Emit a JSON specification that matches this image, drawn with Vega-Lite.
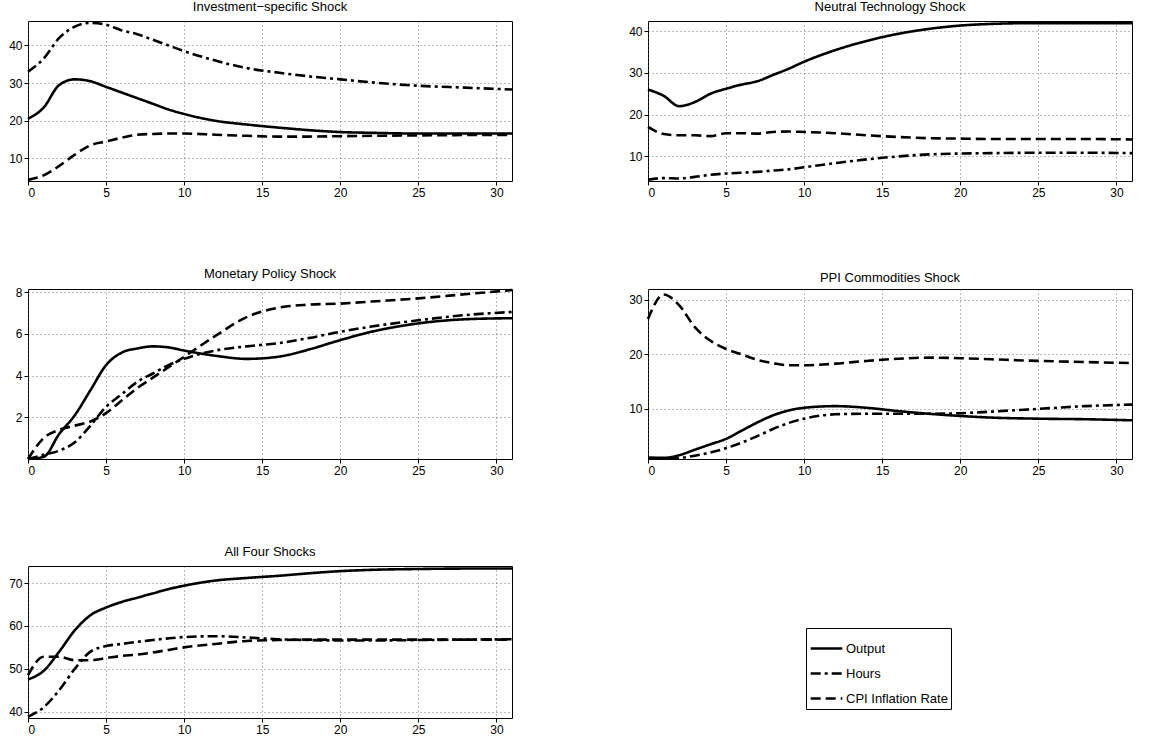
{
  "$schema": "https://vega.github.io/schema/vega-lite/v6.json",
  "padding": {"left": 8, "top": 0, "right": 5, "bottom": 0},
  "background": "white",
  "config": {
    "font": "Liberation Sans",
    "view": {"stroke": "black", "strokeWidth": 1},
    "title": {"fontSize": 13, "fontWeight": "normal", "color": "black", "offset": 4},
    "axis": {
      "title": null, "labelFontSize": 12, "labelColor": "black", "domain": false,
      "grid": true, "gridDash": [1, 3], "gridColor": "#555", "gridOpacity": 0.8,
      "tickColor": "black", "tickSize": 4, "labelPadding": 2
    },
    "line": {"color": "black", "strokeWidth": 2.6, "interpolate": "monotone"},
    "concat": {"spacing": 110}
  },
  "datasets": {
    "inv": [
      {"s":"Output","x":0,"y":20.5},{"s":"Output","x":1,"y":23.5},{"s":"Output","x":2,"y":29.5},{"s":"Output","x":3,"y":31},{"s":"Output","x":4,"y":30.5},{"s":"Output","x":5,"y":29},{"s":"Output","x":6,"y":27.5},{"s":"Output","x":7,"y":26},{"s":"Output","x":8,"y":24.5},{"s":"Output","x":9,"y":23},{"s":"Output","x":10,"y":21.8},{"s":"Output","x":12,"y":20},{"s":"Output","x":14,"y":19},{"s":"Output","x":16,"y":18.2},{"s":"Output","x":18,"y":17.5},{"s":"Output","x":20,"y":17},{"s":"Output","x":22,"y":16.8},{"s":"Output","x":25,"y":16.6},{"s":"Output","x":28,"y":16.6},{"s":"Output","x":31,"y":16.6},
      {"s":"Hours","x":0,"y":33},{"s":"Hours","x":1,"y":36.5},{"s":"Hours","x":2,"y":42},{"s":"Hours","x":3,"y":45},{"s":"Hours","x":4,"y":46},{"s":"Hours","x":5,"y":45.5},{"s":"Hours","x":6,"y":44},{"s":"Hours","x":7,"y":43},{"s":"Hours","x":8,"y":41.5},{"s":"Hours","x":9,"y":40},{"s":"Hours","x":10,"y":38.5},{"s":"Hours","x":12,"y":36},{"s":"Hours","x":14,"y":34},{"s":"Hours","x":16,"y":32.8},{"s":"Hours","x":18,"y":31.8},{"s":"Hours","x":20,"y":31},{"s":"Hours","x":22,"y":30.2},{"s":"Hours","x":25,"y":29.3},{"s":"Hours","x":28,"y":28.8},{"s":"Hours","x":31,"y":28.3},
      {"s":"CPI Inflation Rate","x":0,"y":4.3},{"s":"CPI Inflation Rate","x":1,"y":5.5},{"s":"CPI Inflation Rate","x":2,"y":8},{"s":"CPI Inflation Rate","x":3,"y":11},{"s":"CPI Inflation Rate","x":4,"y":13.5},{"s":"CPI Inflation Rate","x":5,"y":14.5},{"s":"CPI Inflation Rate","x":6,"y":15.5},{"s":"CPI Inflation Rate","x":7,"y":16.3},{"s":"CPI Inflation Rate","x":8,"y":16.5},{"s":"CPI Inflation Rate","x":9,"y":16.6},{"s":"CPI Inflation Rate","x":10,"y":16.6},{"s":"CPI Inflation Rate","x":12,"y":16.3},{"s":"CPI Inflation Rate","x":14,"y":16},{"s":"CPI Inflation Rate","x":16,"y":15.8},{"s":"CPI Inflation Rate","x":18,"y":15.8},{"s":"CPI Inflation Rate","x":20,"y":15.9},{"s":"CPI Inflation Rate","x":22,"y":16},{"s":"CPI Inflation Rate","x":25,"y":16.1},{"s":"CPI Inflation Rate","x":28,"y":16.2},{"s":"CPI Inflation Rate","x":31,"y":16.2}
    ],
    "neu": [
      {"s":"Output","x":0,"y":26},{"s":"Output","x":1,"y":24.5},{"s":"Output","x":2,"y":22},{"s":"Output","x":3,"y":23},{"s":"Output","x":4,"y":25},{"s":"Output","x":5,"y":26.2},{"s":"Output","x":6,"y":27.2},{"s":"Output","x":7,"y":28},{"s":"Output","x":8,"y":29.5},{"s":"Output","x":9,"y":31},{"s":"Output","x":10,"y":32.7},{"s":"Output","x":12,"y":35.5},{"s":"Output","x":14,"y":37.7},{"s":"Output","x":16,"y":39.4},{"s":"Output","x":18,"y":40.6},{"s":"Output","x":20,"y":41.4},{"s":"Output","x":22,"y":41.8},{"s":"Output","x":25,"y":42},{"s":"Output","x":28,"y":42},{"s":"Output","x":31,"y":42},
      {"s":"Hours","x":0,"y":4.3},{"s":"Hours","x":1,"y":4.7},{"s":"Hours","x":2,"y":4.6},{"s":"Hours","x":3,"y":5},{"s":"Hours","x":4,"y":5.5},{"s":"Hours","x":5,"y":5.8},{"s":"Hours","x":6,"y":6},{"s":"Hours","x":7,"y":6.2},{"s":"Hours","x":8,"y":6.5},{"s":"Hours","x":9,"y":6.8},{"s":"Hours","x":10,"y":7.3},{"s":"Hours","x":12,"y":8.3},{"s":"Hours","x":14,"y":9.2},{"s":"Hours","x":16,"y":9.9},{"s":"Hours","x":18,"y":10.4},{"s":"Hours","x":20,"y":10.6},{"s":"Hours","x":22,"y":10.7},{"s":"Hours","x":25,"y":10.8},{"s":"Hours","x":28,"y":10.8},{"s":"Hours","x":31,"y":10.7},
      {"s":"CPI Inflation Rate","x":0,"y":17},{"s":"CPI Inflation Rate","x":1,"y":15.3},{"s":"CPI Inflation Rate","x":2,"y":15},{"s":"CPI Inflation Rate","x":3,"y":15},{"s":"CPI Inflation Rate","x":4,"y":14.8},{"s":"CPI Inflation Rate","x":5,"y":15.5},{"s":"CPI Inflation Rate","x":6,"y":15.5},{"s":"CPI Inflation Rate","x":7,"y":15.4},{"s":"CPI Inflation Rate","x":8,"y":15.8},{"s":"CPI Inflation Rate","x":9,"y":15.9},{"s":"CPI Inflation Rate","x":10,"y":15.8},{"s":"CPI Inflation Rate","x":12,"y":15.5},{"s":"CPI Inflation Rate","x":14,"y":15},{"s":"CPI Inflation Rate","x":16,"y":14.6},{"s":"CPI Inflation Rate","x":18,"y":14.3},{"s":"CPI Inflation Rate","x":20,"y":14.2},{"s":"CPI Inflation Rate","x":22,"y":14.1},{"s":"CPI Inflation Rate","x":25,"y":14.1},{"s":"CPI Inflation Rate","x":28,"y":14.1},{"s":"CPI Inflation Rate","x":31,"y":14}
    ],
    "mon": [
      {"s":"Output","x":0,"y":0},{"s":"Output","x":1,"y":0.1},{"s":"Output","x":2,"y":1.2},{"s":"Output","x":3,"y":2.1},{"s":"Output","x":4,"y":3.3},{"s":"Output","x":5,"y":4.5},{"s":"Output","x":6,"y":5.1},{"s":"Output","x":7,"y":5.3},{"s":"Output","x":8,"y":5.4},{"s":"Output","x":9,"y":5.35},{"s":"Output","x":10,"y":5.2},{"s":"Output","x":12,"y":4.95},{"s":"Output","x":14,"y":4.8},{"s":"Output","x":16,"y":4.9},{"s":"Output","x":18,"y":5.25},{"s":"Output","x":20,"y":5.7},{"s":"Output","x":22,"y":6.1},{"s":"Output","x":25,"y":6.5},{"s":"Output","x":28,"y":6.7},{"s":"Output","x":31,"y":6.75},
      {"s":"Hours","x":0,"y":0},{"s":"Hours","x":1,"y":0.2},{"s":"Hours","x":2,"y":0.4},{"s":"Hours","x":3,"y":0.8},{"s":"Hours","x":4,"y":1.6},{"s":"Hours","x":5,"y":2.5},{"s":"Hours","x":6,"y":3.1},{"s":"Hours","x":7,"y":3.7},{"s":"Hours","x":8,"y":4.1},{"s":"Hours","x":9,"y":4.5},{"s":"Hours","x":10,"y":4.8},{"s":"Hours","x":12,"y":5.2},{"s":"Hours","x":14,"y":5.4},{"s":"Hours","x":16,"y":5.55},{"s":"Hours","x":18,"y":5.8},{"s":"Hours","x":20,"y":6.1},{"s":"Hours","x":22,"y":6.35},{"s":"Hours","x":25,"y":6.65},{"s":"Hours","x":28,"y":6.9},{"s":"Hours","x":31,"y":7.05},
      {"s":"CPI Inflation Rate","x":0,"y":0},{"s":"CPI Inflation Rate","x":1,"y":1},{"s":"CPI Inflation Rate","x":2,"y":1.4},{"s":"CPI Inflation Rate","x":3,"y":1.6},{"s":"CPI Inflation Rate","x":4,"y":1.8},{"s":"CPI Inflation Rate","x":5,"y":2.2},{"s":"CPI Inflation Rate","x":6,"y":2.8},{"s":"CPI Inflation Rate","x":7,"y":3.4},{"s":"CPI Inflation Rate","x":8,"y":3.9},{"s":"CPI Inflation Rate","x":9,"y":4.4},{"s":"CPI Inflation Rate","x":10,"y":4.9},{"s":"CPI Inflation Rate","x":12,"y":5.9},{"s":"CPI Inflation Rate","x":14,"y":6.8},{"s":"CPI Inflation Rate","x":16,"y":7.25},{"s":"CPI Inflation Rate","x":18,"y":7.4},{"s":"CPI Inflation Rate","x":20,"y":7.45},{"s":"CPI Inflation Rate","x":22,"y":7.55},{"s":"CPI Inflation Rate","x":25,"y":7.7},{"s":"CPI Inflation Rate","x":28,"y":7.9},{"s":"CPI Inflation Rate","x":31,"y":8.1}
    ],
    "ppi": [
      {"s":"Output","x":0,"y":1},{"s":"Output","x":1,"y":1},{"s":"Output","x":2,"y":1.5},{"s":"Output","x":3,"y":2.5},{"s":"Output","x":4,"y":3.5},{"s":"Output","x":5,"y":4.5},{"s":"Output","x":6,"y":6},{"s":"Output","x":7,"y":7.5},{"s":"Output","x":8,"y":8.8},{"s":"Output","x":9,"y":9.7},{"s":"Output","x":10,"y":10.2},{"s":"Output","x":12,"y":10.5},{"s":"Output","x":14,"y":10.2},{"s":"Output","x":16,"y":9.6},{"s":"Output","x":18,"y":9.1},{"s":"Output","x":20,"y":8.7},{"s":"Output","x":22,"y":8.4},{"s":"Output","x":25,"y":8.2},{"s":"Output","x":28,"y":8.1},{"s":"Output","x":31,"y":7.9},
      {"s":"Hours","x":0,"y":1},{"s":"Hours","x":1,"y":0.9},{"s":"Hours","x":2,"y":1},{"s":"Hours","x":3,"y":1.4},{"s":"Hours","x":4,"y":2},{"s":"Hours","x":5,"y":2.8},{"s":"Hours","x":6,"y":3.8},{"s":"Hours","x":7,"y":5},{"s":"Hours","x":8,"y":6.3},{"s":"Hours","x":9,"y":7.4},{"s":"Hours","x":10,"y":8.2},{"s":"Hours","x":12,"y":9},{"s":"Hours","x":14,"y":9.1},{"s":"Hours","x":16,"y":9.1},{"s":"Hours","x":18,"y":9.1},{"s":"Hours","x":20,"y":9.2},{"s":"Hours","x":22,"y":9.5},{"s":"Hours","x":25,"y":10},{"s":"Hours","x":28,"y":10.5},{"s":"Hours","x":31,"y":10.8},
      {"s":"CPI Inflation Rate","x":0,"y":26.5},{"s":"CPI Inflation Rate","x":1,"y":31},{"s":"CPI Inflation Rate","x":2,"y":29},{"s":"CPI Inflation Rate","x":3,"y":25},{"s":"CPI Inflation Rate","x":4,"y":22.5},{"s":"CPI Inflation Rate","x":5,"y":21},{"s":"CPI Inflation Rate","x":6,"y":20},{"s":"CPI Inflation Rate","x":7,"y":19},{"s":"CPI Inflation Rate","x":8,"y":18.4},{"s":"CPI Inflation Rate","x":9,"y":18},{"s":"CPI Inflation Rate","x":10,"y":18},{"s":"CPI Inflation Rate","x":12,"y":18.3},{"s":"CPI Inflation Rate","x":14,"y":18.8},{"s":"CPI Inflation Rate","x":16,"y":19.2},{"s":"CPI Inflation Rate","x":18,"y":19.4},{"s":"CPI Inflation Rate","x":20,"y":19.3},{"s":"CPI Inflation Rate","x":22,"y":19.1},{"s":"CPI Inflation Rate","x":25,"y":18.8},{"s":"CPI Inflation Rate","x":28,"y":18.6},{"s":"CPI Inflation Rate","x":31,"y":18.4}
    ],
    "all": [
      {"s":"Output","x":0,"y":47.5},{"s":"Output","x":1,"y":49.5},{"s":"Output","x":2,"y":54},{"s":"Output","x":3,"y":59},{"s":"Output","x":4,"y":62.5},{"s":"Output","x":5,"y":64.3},{"s":"Output","x":6,"y":65.6},{"s":"Output","x":7,"y":66.6},{"s":"Output","x":8,"y":67.6},{"s":"Output","x":9,"y":68.6},{"s":"Output","x":10,"y":69.4},{"s":"Output","x":12,"y":70.6},{"s":"Output","x":14,"y":71.2},{"s":"Output","x":16,"y":71.7},{"s":"Output","x":18,"y":72.3},{"s":"Output","x":20,"y":72.8},{"s":"Output","x":22,"y":73.1},{"s":"Output","x":25,"y":73.3},{"s":"Output","x":28,"y":73.4},{"s":"Output","x":31,"y":73.4},
      {"s":"Hours","x":0,"y":38.8},{"s":"Hours","x":1,"y":41},{"s":"Hours","x":2,"y":45},{"s":"Hours","x":3,"y":50},{"s":"Hours","x":4,"y":54},{"s":"Hours","x":5,"y":55.3},{"s":"Hours","x":6,"y":55.8},{"s":"Hours","x":7,"y":56.3},{"s":"Hours","x":8,"y":56.7},{"s":"Hours","x":9,"y":57.1},{"s":"Hours","x":10,"y":57.4},{"s":"Hours","x":12,"y":57.6},{"s":"Hours","x":14,"y":57.3},{"s":"Hours","x":16,"y":56.9},{"s":"Hours","x":18,"y":56.7},{"s":"Hours","x":20,"y":56.6},{"s":"Hours","x":22,"y":56.6},{"s":"Hours","x":25,"y":56.7},{"s":"Hours","x":28,"y":56.8},{"s":"Hours","x":31,"y":56.9},
      {"s":"CPI Inflation Rate","x":0,"y":48.5},{"s":"CPI Inflation Rate","x":1,"y":52.8},{"s":"CPI Inflation Rate","x":2,"y":52.8},{"s":"CPI Inflation Rate","x":3,"y":52},{"s":"CPI Inflation Rate","x":4,"y":52},{"s":"CPI Inflation Rate","x":5,"y":52.5},{"s":"CPI Inflation Rate","x":6,"y":53},{"s":"CPI Inflation Rate","x":7,"y":53.3},{"s":"CPI Inflation Rate","x":8,"y":53.8},{"s":"CPI Inflation Rate","x":9,"y":54.4},{"s":"CPI Inflation Rate","x":10,"y":55},{"s":"CPI Inflation Rate","x":12,"y":55.8},{"s":"CPI Inflation Rate","x":14,"y":56.5},{"s":"CPI Inflation Rate","x":16,"y":56.7},{"s":"CPI Inflation Rate","x":18,"y":56.8},{"s":"CPI Inflation Rate","x":20,"y":56.8},{"s":"CPI Inflation Rate","x":22,"y":56.8},{"s":"CPI Inflation Rate","x":25,"y":56.8},{"s":"CPI Inflation Rate","x":28,"y":56.8},{"s":"CPI Inflation Rate","x":31,"y":56.8}
    ]
  },
  "spacing": 68,
  "resolve": {"scale": {"strokeDash": "independent"}, "legend": {"strokeDash": "independent"}},
  "vconcat": [
    {
      "hconcat": [
        {
          "title": "Investment−specific Shock", "width": 484, "height": 160,
          "data": {"name": "inv"}, "mark": "line",
          "encoding": {
            "x": {"field": "x", "type": "quantitative", "scale": {"domain": [0, 31], "nice": false}, "axis": {"values": [0,5,10,15,20,25,30]}},
            "y": {"field": "y", "type": "quantitative", "scale": {"domain": [4, 46.5], "nice": false, "zero": false}, "axis": {"values": [10,20,30,40]}},
            "strokeDash": {"field": "s", "type": "nominal", "legend": null, "scale": {"domain": ["Output","Hours","CPI Inflation Rate"], "range": [[1,0],[10,4,3,4],[10,5]]}}
          }
        },
        {
          "title": "Neutral Technology Shock", "width": 484, "height": 160,
          "data": {"name": "neu"}, "mark": "line",
          "encoding": {
            "x": {"field": "x", "type": "quantitative", "scale": {"domain": [0, 31], "nice": false}, "axis": {"values": [0,5,10,15,20,25,30]}},
            "y": {"field": "y", "type": "quantitative", "scale": {"domain": [4, 42.5], "nice": false, "zero": false}, "axis": {"values": [10,20,30,40]}},
            "strokeDash": {"field": "s", "type": "nominal", "legend": null, "scale": {"domain": ["Output","Hours","CPI Inflation Rate"], "range": [[1,0],[10,4,3,4],[10,5]]}}
          }
        }
      ]
    },
    {
      "hconcat": [
        {
          "title": "Monetary Policy Shock", "width": 484, "height": 170,
          "data": {"name": "mon"}, "mark": "line",
          "encoding": {
            "x": {"field": "x", "type": "quantitative", "scale": {"domain": [0, 31], "nice": false}, "axis": {"values": [0,5,10,15,20,25,30]}},
            "y": {"field": "y", "type": "quantitative", "scale": {"domain": [0, 8.15], "nice": false}, "axis": {"values": [2,4,6,8]}},
            "strokeDash": {"field": "s", "type": "nominal", "legend": null, "scale": {"domain": ["Output","Hours","CPI Inflation Rate"], "range": [[1,0],[10,4,3,4],[10,5]]}}
          }
        },
        {
          "title": "PPI Commodities Shock", "width": 484, "height": 170,
          "data": {"name": "ppi"}, "mark": "line",
          "encoding": {
            "x": {"field": "x", "type": "quantitative", "scale": {"domain": [0, 31], "nice": false}, "axis": {"values": [0,5,10,15,20,25,30]}},
            "y": {"field": "y", "type": "quantitative", "scale": {"domain": [0.8, 32], "nice": false, "zero": false}, "axis": {"values": [10,20,30]}},
            "strokeDash": {"field": "s", "type": "nominal", "legend": null, "scale": {"domain": ["Output","Hours","CPI Inflation Rate"], "range": [[1,0],[10,4,3,4],[10,5]]}}
          }
        }
      ]
    },
    {
      "title": "All Four Shocks", "width": 484, "height": 152,
      "data": {"name": "all"}, "mark": "line",
      "encoding": {
        "x": {"field": "x", "type": "quantitative", "scale": {"domain": [0, 31], "nice": false}, "axis": {"values": [0,5,10,15,20,25,30]}},
        "y": {"field": "y", "type": "quantitative", "scale": {"domain": [38.5, 74], "nice": false, "zero": false}, "axis": {"values": [40,50,60,70]}},
        "strokeDash": {
          "field": "s", "type": "nominal",
          "scale": {"domain": ["Output","Hours","CPI Inflation Rate"], "range": [[1,0],[10,4,3,4],[10,5]]},
          "legend": {
            "title": null, "orient": "none", "legendX": 778, "legendY": 62,
            "symbolType": "stroke", "symbolSize": 1000, "symbolStrokeWidth": 2.6, "symbolStrokeColor": "black",
            "labelFontSize": 13, "labelColor": "black", "rowPadding": 0, "labelOffset": 2,
            "strokeColor": "black", "padding": 3, "fillColor": "white"
          }
        }
      }
    }
  ]
}
